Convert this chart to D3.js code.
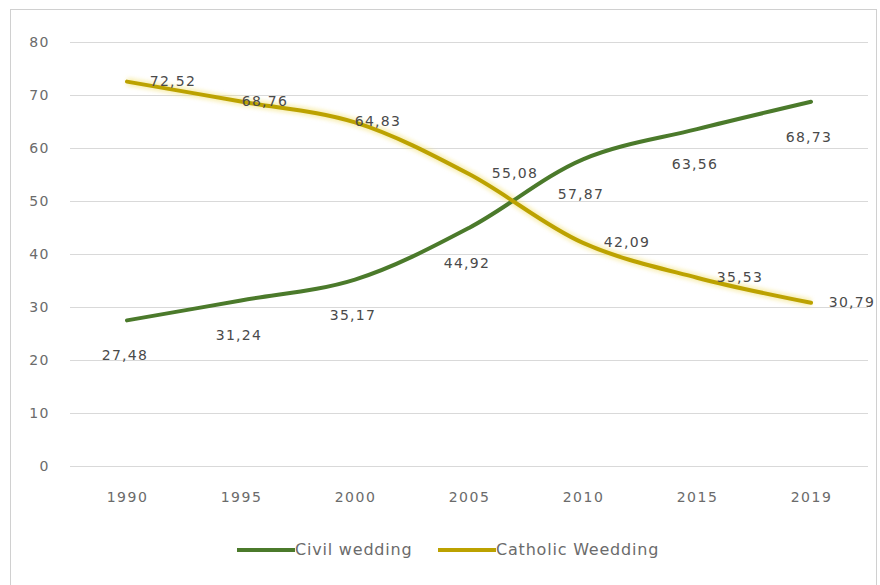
<!DOCTYPE html>
<html>
<head>
<meta charset="utf-8">
<script src="https://cdn.jsdelivr.net/npm/d3@7"></script>
<style>
  html, body { margin: 0; padding: 0; background: #fff; }
  svg { display: block; }
  text { font-family: "DejaVu Sans", "Open Sans", sans-serif; }
</style>
</head>
<body>
<svg id="chart" width="880" height="585"></svg>
<script>
// Share of weddings by type (%)
const years = ["1990", "1995", "2000", "2005", "2010", "2015", "2019"];
const civilWedding = [27.48, 31.24, 35.17, 44.92, 57.87, 63.56, 68.73];
const catholicWedding = [72.52, 68.76, 64.83, 55.08, 42.09, 35.53, 30.79];
const yTicks = [0, 10, 20, 30, 40, 50, 60, 70, 80];
const seriesNames = ["Civil wedding", "Catholic Weedding"];

// Layout
const W = 880, H = 585;
const plot = { left: 70, right: 868, top: 42, bottom: 466 };
const colors = { civil: "#4b7a2b", catholic: "#bca200", glow: "#f3e27a" };
// horizontal nudges for the Catholic labels that sit closer to their points
const catholicLabelDx = [46, 24, 23, 46, 44, 43, 41];

const svg = d3.select("#chart");

// outer chart frame
svg.append("rect")
  .attr("x", 10.5).attr("y", 9.5)
  .attr("width", 866).attr("height", 600)
  .attr("fill", "#fff").attr("stroke", "#d0d0d0");

const x = d3.scalePoint().domain(years).range([plot.left, plot.right]).padding(0.5);
const y = d3.scaleLinear().domain([0, 80]).range([plot.bottom, plot.top]);

// gridlines
svg.append("g")
  .selectAll("line")
  .data(yTicks)
  .join("line")
  .attr("x1", plot.left).attr("x2", plot.right)
  .attr("y1", d => Math.round(y(d)) + 0.5).attr("y2", d => Math.round(y(d)) + 0.5)
  .attr("stroke", "#d9d9d9").attr("stroke-width", 1);

// y axis labels
const yAxis = d3.axisLeft(y).tickValues(yTicks).tickSize(0).tickPadding(0);
svg.append("g")
  .attr("transform", `translate(${plot.left - 20},0)`)
  .call(yAxis)
  .call(g => g.select(".domain").remove())
  .call(g => g.selectAll("text")
    .attr("fill", "#6b6b6b").attr("font-size", 14).style("letter-spacing", "1.5px"));

// x axis labels
const xAxis = d3.axisBottom(x).tickSize(0).tickPadding(0);
svg.append("g")
  .attr("transform", `translate(0,${plot.bottom + 26})`)
  .call(xAxis)
  .call(g => g.select(".domain").remove())
  .call(g => g.selectAll("text")
    .attr("fill", "#6b6b6b").attr("font-size", 14).style("letter-spacing", "1.5px"));

const line = d3.line()
  .x((d, i) => x(years[i]))
  .y(d => y(d))
  .curve(d3.curveCatmullRom.alpha(0.5));

// soft glow under the lines
const defs = svg.append("defs");
defs.append("filter").attr("id", "soft").attr("x", "-5%").attr("y", "-20%").attr("width", "110%").attr("height", "140%")
  .append("feGaussianBlur").attr("stdDeviation", 2);

svg.append("path").datum(catholicWedding)
  .attr("d", line).attr("fill", "none")
  .attr("stroke", colors.glow).attr("stroke-width", 8).attr("opacity", 0.6)
  .attr("filter", "url(#soft)");

svg.append("path").datum(civilWedding)
  .attr("d", line).attr("fill", "none")
  .attr("stroke", colors.civil).attr("stroke-width", 4)
  .attr("stroke-linecap", "round");

svg.append("path").datum(catholicWedding)
  .attr("d", line).attr("fill", "none")
  .attr("stroke", colors.catholic).attr("stroke-width", 4)
  .attr("stroke-linecap", "round");

const fmt = v => v.toFixed(2).replace(".", ",");

// data labels
svg.append("g")
  .selectAll("text")
  .data(civilWedding)
  .join("text")
  .attr("x", (d, i) => x(years[i]) - 2)
  .attr("y", d => y(d) + 36)
  .attr("text-anchor", "middle").attr("dominant-baseline", "middle")
  .attr("fill", "#4a4a4a").attr("font-size", 14).style("letter-spacing", "1.3px")
  .text(fmt);

svg.append("g")
  .selectAll("text")
  .data(catholicWedding)
  .join("text")
  .attr("x", (d, i) => x(years[i]) + catholicLabelDx[i])
  .attr("y", d => y(d))
  .attr("text-anchor", "middle").attr("dominant-baseline", "middle")
  .attr("fill", "#4a4a4a").attr("font-size", 14).style("letter-spacing", "1.3px")
  .text(fmt);

// legend
const legend = svg.append("g").attr("transform", "translate(0,550)");
const legendItems = [
  { name: seriesNames[0], color: colors.civil, x0: 237 },
  { name: seriesNames[1], color: colors.catholic, x0: 438 }
];
legendItems.forEach(it => {
  legend.append("line")
    .attr("x1", it.x0).attr("x2", it.x0 + 58)
    .attr("y1", 0).attr("y2", 0)
    .attr("stroke", it.color).attr("stroke-width", 4);
  legend.append("text")
    .attr("x", it.x0 + 58).attr("y", 0)
    .attr("dominant-baseline", "middle")
    .attr("fill", "#6b6b6b").attr("font-size", 16).style("letter-spacing", "0.8px")
    .text(it.name);
});
</script>
</body>
</html>
